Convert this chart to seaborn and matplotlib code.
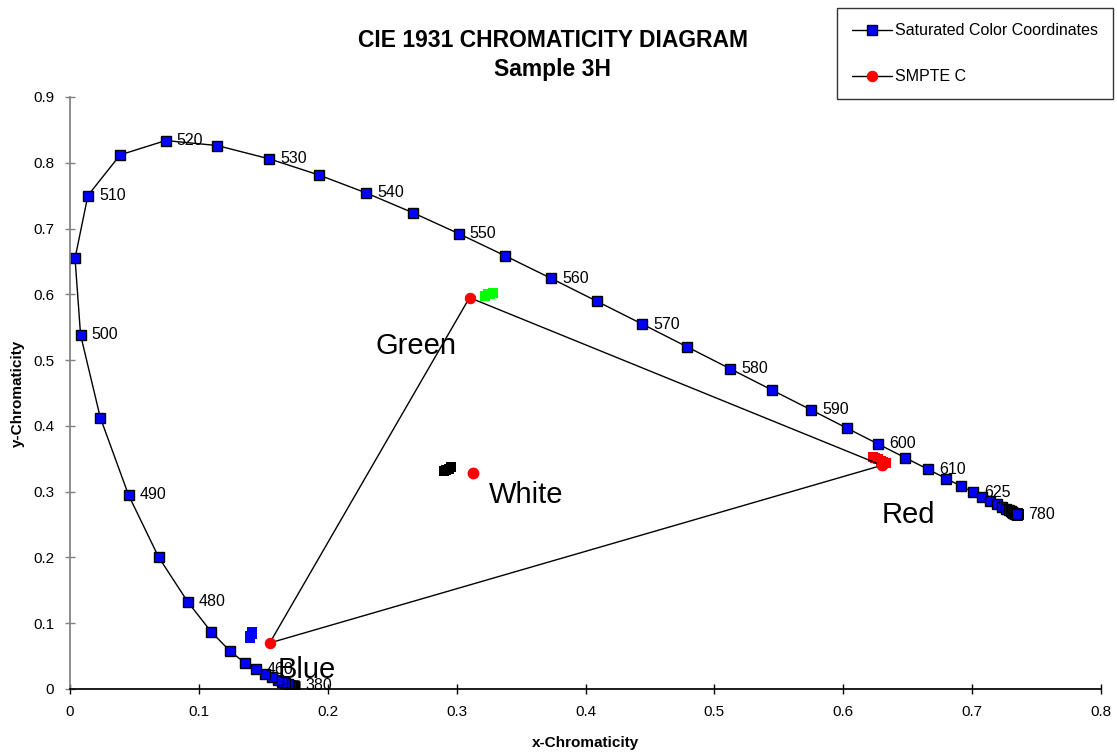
import matplotlib
matplotlib.use("Agg")
import matplotlib.pyplot as plt
import seaborn as sns
import pandas as pd

# CIE 1931 spectral locus, 5 nm steps 380..780
wavelengths = list(range(380, 785, 5))
locus_x = [0.1741, 0.1740, 0.1738, 0.1736, 0.1733, 0.1730, 0.1726, 0.1721, 0.1714, 0.1703,
           0.1689, 0.1669, 0.1644, 0.1611, 0.1566, 0.1510, 0.1440, 0.1355, 0.1241, 0.1096,
           0.0913, 0.0687, 0.0454, 0.0235, 0.0082, 0.0039, 0.0139, 0.0389, 0.0743, 0.1142,
           0.1547, 0.1929, 0.2296, 0.2658, 0.3016, 0.3373, 0.3731, 0.4087, 0.4441, 0.4788,
           0.5125, 0.5448, 0.5752, 0.6029, 0.6270, 0.6482, 0.6658, 0.6801, 0.6915, 0.7006,
           0.7079, 0.7140, 0.7190, 0.7230, 0.7260, 0.7283, 0.7300, 0.7311, 0.7320, 0.7327,
           0.7334, 0.7340, 0.7344, 0.7346, 0.7347, 0.7347, 0.7347, 0.7347, 0.7347, 0.7347,
           0.7347, 0.7347, 0.7347, 0.7347, 0.7347, 0.7347, 0.7347, 0.7347, 0.7347, 0.7347,
           0.7347]
locus_y = [0.0050, 0.0050, 0.0049, 0.0049, 0.0048, 0.0048, 0.0048, 0.0048, 0.0051, 0.0058,
           0.0069, 0.0086, 0.0109, 0.0138, 0.0177, 0.0227, 0.0297, 0.0399, 0.0578, 0.0868,
           0.1327, 0.2007, 0.2950, 0.4127, 0.5384, 0.6548, 0.7502, 0.8120, 0.8338, 0.8262,
           0.8059, 0.7816, 0.7543, 0.7243, 0.6923, 0.6589, 0.6245, 0.5896, 0.5547, 0.5202,
           0.4866, 0.4544, 0.4242, 0.3965, 0.3725, 0.3514, 0.3340, 0.3197, 0.3083, 0.2993,
           0.2920, 0.2859, 0.2809, 0.2770, 0.2740, 0.2717, 0.2700, 0.2689, 0.2680, 0.2673,
           0.2666, 0.2660, 0.2656, 0.2654, 0.2653, 0.2653, 0.2653, 0.2653, 0.2653, 0.2653,
           0.2653, 0.2653, 0.2653, 0.2653, 0.2653, 0.2653, 0.2653, 0.2653, 0.2653, 0.2653,
           0.2653]
labelled = [380, 460, 480, 490, 500, 510, 520, 530, 540, 550, 560, 570, 580, 590, 600, 610, 625, 780]

# SMPTE C primaries (R, G, B, back to R) and white point
smpte_x = [0.630, 0.310, 0.155, 0.630]
smpte_y = [0.340, 0.595, 0.070, 0.340]
white_x = [0.3127]
white_y = [0.3290]

# measured sample 3H points
red_mx = [0.623, 0.625, 0.627, 0.629, 0.631, 0.633]
red_my = [0.352, 0.351, 0.349, 0.347, 0.345, 0.343]
green_mx = [0.322, 0.324, 0.326, 0.328]
green_my = [0.598, 0.600, 0.601, 0.602]
blue_mx = [0.140, 0.140, 0.141, 0.141]
blue_my = [0.077, 0.080, 0.084, 0.087]
white_mx = [0.290, 0.292, 0.294, 0.296]
white_my = [0.331, 0.333, 0.335, 0.337]

# region names
region_names = ["Green", "White", "Red", "Blue"]
region_x = [0.237, 0.325, 0.630, 0.161]
region_y = [0.521, 0.295, 0.265, 0.029]

sns.set_theme(style="white")
plt.rcParams['font.family'] = ['Liberation Sans', 'DejaVu Sans']
plt.rcParams['text.color'] = 'black'
plt.rcParams['axes.labelcolor'] = 'black'
plt.rcParams['xtick.color'] = 'black'
plt.rcParams['ytick.color'] = 'black'

fig = plt.figure(figsize=(11.17, 7.56), dpi=100)
ax = fig.add_axes([70 / 1117, 1 - 689 / 756, (1101 - 70) / 1117, (689 - 97) / 756])

locus = pd.DataFrame({"x": locus_x, "y": locus_y})
sns.lineplot(data=locus, x="x", y="y", sort=False, estimator=None, ax=ax, color="black", lw=1,
             marker="s", markersize=7, markerfacecolor="#0000ff", markeredgecolor="black",
             markeredgewidth=1, label="Saturated Color Coordinates")

smpte = pd.DataFrame({"x": smpte_x, "y": smpte_y})
sns.lineplot(data=smpte, x="x", y="y", sort=False, estimator=None, ax=ax, color="black", lw=1,
             marker="o", markersize=7.5, markerfacecolor="#ff0000", markeredgecolor="#ff0000",
             label="SMPTE C")
ax.plot(white_x, white_y, "o", ms=7.5, color="#ff0000")

sns.scatterplot(x=red_mx, y=red_my, ax=ax, marker="s", s=60, color="#ff0000", linewidth=0)
sns.scatterplot(x=green_mx, y=green_my, ax=ax, marker="s", s=60, color="#00ff00", linewidth=0)
sns.scatterplot(x=blue_mx, y=blue_my, ax=ax, marker="s", s=50, color="#0000ff", linewidth=0)
sns.scatterplot(x=white_mx, y=white_my, ax=ax, marker="s", s=50, color="black", linewidth=0)

handles, labels = ax.get_legend_handles_labels()
if ax.get_legend() is not None:
    ax.get_legend().remove()

for wl, x, y in zip(wavelengths, locus_x, locus_y):
    if wl in labelled:
        ax.annotate(str(wl), (x, y), xytext=(8, 0), textcoords="offset points",
                    va="center", ha="left", fontsize=11.5, color="black")

for name, x, y in zip(region_names, region_x, region_y):
    ax.text(x, y, name, fontsize=21, ha="left", va="center", color="black")

ax.set_xlim(0, 0.8)
ax.set_ylim(0, 0.9)
ax.set_xticks([0, 0.1, 0.2, 0.3, 0.4, 0.5, 0.6, 0.7, 0.8])
ax.set_xticklabels(["0", "0.1", "0.2", "0.3", "0.4", "0.5", "0.6", "0.7", "0.8"])
ax.set_yticks([0, 0.1, 0.2, 0.3, 0.4, 0.5, 0.6, 0.7, 0.8, 0.9])
ax.set_yticklabels(["0", "0.1", "0.2", "0.3", "0.4", "0.5", "0.6", "0.7", "0.8", "0.9"])
ax.tick_params(axis="both", which="both", direction="inout", length=7, width=1,
               labelsize=11, bottom=True, left=True, labelcolor="black", pad=8)
ax.tick_params(axis="y", color="gray")
ax.tick_params(axis="x", color="black")
for s in ["top", "right"]:
    ax.spines[s].set_visible(False)
ax.spines["left"].set_color("gray")
ax.spines["bottom"].set_color("black")
ax.set_xlabel("x-Chromaticity", fontweight="bold", fontsize=11, labelpad=12)
ax.set_ylabel("y-Chromaticity", fontweight="bold", fontsize=11, labelpad=6)

fig.text(553 / 1117, 1 - 55 / 756, "CIE 1931 CHROMATICITY DIAGRAM\nSample 3H",
         ha="center", va="center", fontweight="bold", fontsize=16.5, linespacing=1.35,
         color="black")

leg = fig.legend(handles, labels, loc="upper right", bbox_to_anchor=(1113 / 1117, 1 - 8 / 756),
                 fontsize=11.5, frameon=True, fancybox=False, labelspacing=1.95,
                 handlelength=2.5, handletextpad=0.2, borderpad=0.95, borderaxespad=0)
leg.get_frame().set_edgecolor("black")
leg.get_frame().set_linewidth(1)
for t in leg.get_texts():
    t.set_color("black")

fig.savefig("out.png", dpi=100)
